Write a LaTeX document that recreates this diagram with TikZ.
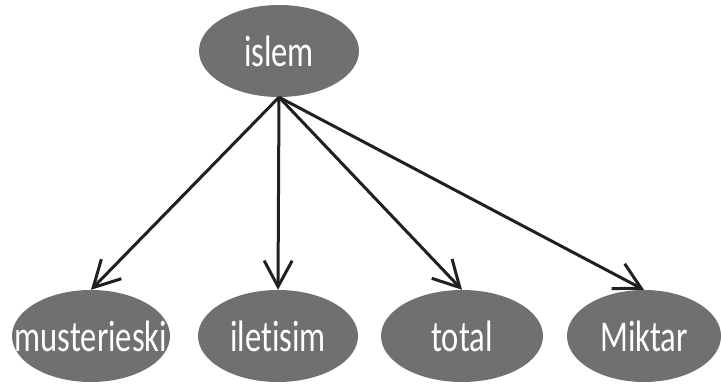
\documentclass[tikz,border=0pt]{standalone}
\usepackage{fontspec}
\setmainfont{Carlito}[Ligatures=NoCommon]
\usepackage{graphicx}
\usepackage{xcolor}
\usetikzlibrary{shapes.geometric,arrows.meta}

\definecolor{nodegray}{RGB}{112,112,112}
\definecolor{edgegray}{RGB}{32,32,32}
\newcommand{\narrowlabel}[1]{\makebox[0pt]{\scalebox{0.74}[1]{#1}}}

\begin{document}
\begin{tikzpicture}[
  x=1pt,y=-1pt,
  vertex/.style={ellipse,fill=nodegray,draw=none,text=white,inner sep=0pt,
    minimum width=160pt,minimum height=92pt,font=\fontsize{44}{46}\selectfont},
  link/.style={draw=edgegray,line width=3pt,
    -{Straight Barb[length=26pt,width=28pt,line width=3pt]}}
]
  \useasboundingbox (0,0) rectangle (721,385);
  \node[vertex] (islem) at (279,51) {\narrowlabel{islem}};
  \node[vertex,minimum width=158pt] (musterieski) at (91,336) {\narrowlabel{musterieski}};
  \node[vertex] (iletisim) at (278,336) {\narrowlabel{iletisim}};
  \node[vertex,minimum width=162pt] (total) at (462,336) {\narrowlabel{total}};
  \node[vertex,minimum width=154pt] (miktar) at (644,336) {\narrowlabel{Miktar}};
  \draw[link] (islem.south) -- (musterieski.north);
  \draw[link] (islem.south) -- (iletisim.north);
  \draw[link] (islem.south) -- (total.north);
  \draw[link] (islem.south) -- (miktar.north);
\end{tikzpicture}
\end{document}
